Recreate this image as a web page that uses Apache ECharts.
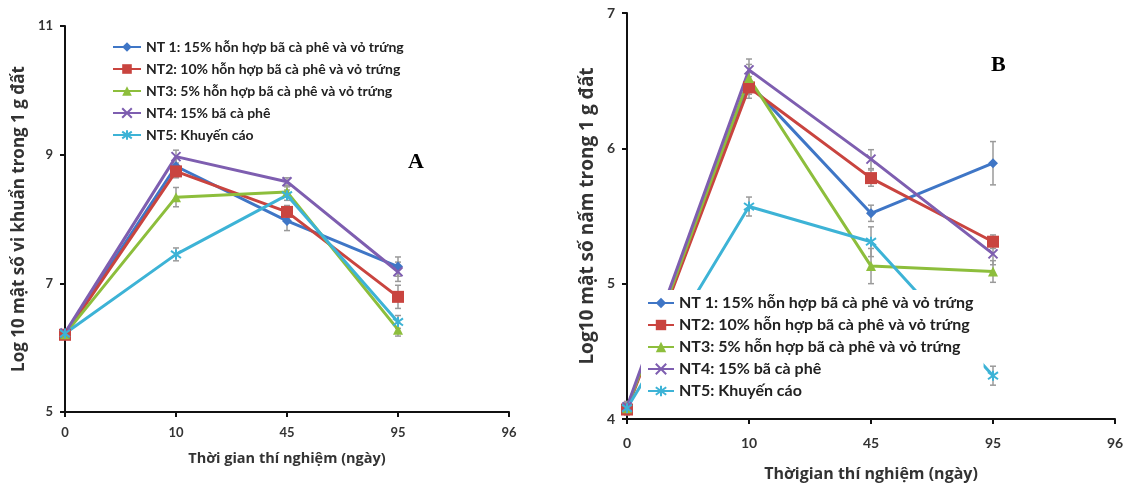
<!DOCTYPE html>
<html><head><meta charset="utf-8">
<script src="https://cdn.jsdelivr.net/npm/echarts@6/dist/echarts.min.js"></script>
<style>html,body{margin:0;padding:0;background:#fff}#c{width:1129px;height:487px}</style>
</head><body><div id="c"></div>
<script>
// categories (days)
const days = ['0', '10', '45', '95', '96'];
const seriesNames = [
  'NT 1: 15% hỗn hợp bã cà phê và vỏ trứng',
  'NT2: 10% hỗn hợp bã cà phê và vỏ trứng',
  'NT3: 5% hỗn hợp bã cà phê và vỏ trứng',
  'NT4: 15% bã cà phê',
  'NT5: Khuyến cáo'
];
// Chart A: log10 bacteria per g soil
const bacNT1 = [6.22, 8.82, 7.97, 7.26];
const bacNT2 = [6.20, 8.74, 8.11, 6.79];
const bacNT3 = [6.21, 8.34, 8.42, 6.28];
const bacNT4 = [6.23, 8.97, 8.58, 7.18];
const bacNT5 = [6.22, 7.45, 8.37, 6.40];
const bacErr1 = [0.05, 0.12, 0.15, 0.15];
const bacErr2 = [0.05, 0.10, 0.10, 0.18];
const bacErr3 = [0.05, 0.15, 0.08, 0.10];
const bacErr4 = [0.05, 0.10, 0.06, 0.15];
const bacErr5 = [0.05, 0.10, 0.08, 0.10];
// Chart B: log10 fungi per g soil
const funNT1 = [4.08, 6.48, 5.52, 5.89];
const funNT2 = [4.07, 6.45, 5.78, 5.31];
const funNT3 = [4.08, 6.52, 5.13, 5.09];
const funNT4 = [4.09, 6.58, 5.92, 5.22];
const funNT5 = [4.08, 5.57, 5.31, 4.32];
const funErr1 = [0.04, 0.08, 0.06, 0.16];
const funErr2 = [0.04, 0.08, 0.06, 0.05];
const funErr3 = [0.04, 0.10, 0.13, 0.08];
const funErr4 = [0.04, 0.08, 0.07, 0.08];
const funErr5 = [0.04, 0.07, 0.11, 0.07];

const colors = ['#3F76C6', '#C9443F', '#8DBE3C', '#7E5EB0', '#3DB3D6'];
const symbols = ['diamond', 'rect', 'triangle',
  'path://M0,0L10,10M10,0L0,10',
  'path://M0,0L10,10M10,0L0,10M5,-2L5,12'];
const symbolSizes = [10, 12, 10, 9, 10];

const bacData = [bacNT1, bacNT2, bacNT3, bacNT4, bacNT5];
const bacErrs = [bacErr1, bacErr2, bacErr3, bacErr4, bacErr5];
const funData = [funNT1, funNT2, funNT3, funNT4, funNT5];
const funErrs = [funErr1, funErr2, funErr3, funErr4, funErr5];

const FONT = 'Lato';
const TFONT = 'Open Sans';

function lineSeries(dataSets, axisIdx) {
  return dataSets.map((d, i) => ({
    name: seriesNames[i], type: 'line', xAxisIndex: axisIdx, yAxisIndex: axisIdx,
    data: d, symbol: symbols[i], symbolSize: symbolSizes[i], z: 3,
    lineStyle: { color: colors[i], width: 3 },
    itemStyle: { color: colors[i], borderColor: colors[i], borderWidth: i >= 3 ? 2 : 0 },
    emphasis: { disabled: true }, animation: false
  }));
}
function errSeries(dataSets, errSets, axisIdx) {
  const pts = [];
  dataSets.forEach((d, i) => d.forEach((v, j) => pts.push([j, v, errSets[i][j]])));
  return {
    type: 'custom', xAxisIndex: axisIdx, yAxisIndex: axisIdx, z: 2, silent: true,
    data: pts, animation: false,
    renderItem: function (params, api) {
      const x = api.value(0), y = api.value(1), e = api.value(2);
      const hi = api.coord([x, y + e]), lo = api.coord([x, y - e]);
      const w = 3;
      const st = { stroke: '#9a9a9a', lineWidth: 1.5 };
      return { type: 'group', children: [
        { type: 'line', shape: { x1: hi[0], y1: hi[1], x2: lo[0], y2: lo[1] }, style: st },
        { type: 'line', shape: { x1: hi[0] - w, y1: hi[1], x2: hi[0] + w, y2: hi[1] }, style: st },
        { type: 'line', shape: { x1: lo[0] - w, y1: lo[1], x2: lo[0] + w, y2: lo[1] }, style: st }
      ]};
    }
  };
}
function xAxis(idx, fs, tfs, title, gap, margin) {
  return {
    type: 'category', gridIndex: idx, data: days, boundaryGap: false,
    axisLine: { lineStyle: { color: '#111', width: 2 } },
    axisTick: { alignWithLabel: true, length: 5, lineStyle: { color: '#111', width: 2 } },
    axisLabel: { color: '#333', fontSize: fs, fontWeight: 'bold', fontFamily: FONT, margin: margin },
    name: title, nameLocation: 'middle', nameGap: gap,
    nameTextStyle: { color: '#333', fontSize: tfs, fontWeight: 'bold', fontFamily: TFONT }
  };
}
function yAxis(idx, mn, mx, iv, fs, tfs, title, gap) {
  return {
    type: 'value', gridIndex: idx, min: mn, max: mx, interval: iv,
    splitLine: { show: false },
    axisLine: { show: true, lineStyle: { color: '#111', width: 2 } },
    axisTick: { show: true, length: 5, lineStyle: { color: '#111', width: 2 } },
    axisLabel: { color: '#333', fontSize: fs, fontWeight: 'bold', fontFamily: FONT, margin: 12 },
    name: title, nameLocation: 'middle', nameGap: gap, nameRotate: 90,
    nameTextStyle: { color: '#333', fontSize: tfs, fontWeight: 'bold', fontFamily: TFONT }
  };
}

const chart = echarts.init(document.getElementById('c'), null, { renderer: 'canvas' });
chart.setOption({
  backgroundColor: '#fff',
  animation: false,
  grid: [
    { left: 65, top: 26, width: 444, height: 386 },
    { left: 627, top: 13, width: 488, height: 409 }
  ],
  xAxis: [
    xAxis(0, 13, 14.5, 'Thời gian thí nghiệm (ngày)', 39, 14),
    xAxis(1, 14, 16, 'Thờigian thí nghiệm (ngày)', 47, 17)
  ],
  yAxis: [
    yAxis(0, 5, 11, 2, 13, 17, 'Log 10 mật số vi khuẩn trong 1 g đất', 37),
    yAxis(1, 4, 7, 1, 14, 19, 'Log10 mật số nấm trong 1 g đất', 30)
  ],
  legend: [
    { data: seriesNames, orient: 'vertical', left: 112, top: 40, itemWidth: 28, itemHeight: 12,
      itemGap: 8, backgroundColor: '#fff', padding: 0,
      textStyle: { fontSize: 14, fontWeight: 'bold', color: '#222', fontFamily: FONT } },
    { data: seriesNames, orient: 'vertical', left: 641, top: 290, itemWidth: 26, itemHeight: 13,
      itemGap: 6, backgroundColor: '#fff', padding: [5, 10, 6, 6],
      textStyle: { fontSize: 16, fontWeight: 'bold', color: '#222', fontFamily: FONT } }
  ],
  graphic: [
    { type: 'text', left: 408, top: 151, style: { text: 'A', font: 'bold 22px "Liberation Serif"', fill: '#000' } },
    { type: 'text', left: 991, top: 54, style: { text: 'B', font: 'bold 22px "Liberation Serif"', fill: '#000' } }
  ],
  series: [
    errSeries(bacData, bacErrs, 0),
    errSeries(funData, funErrs, 1),
    ...lineSeries(bacData, 0),
    ...lineSeries(funData, 1)
  ]
});
</script></body></html>
